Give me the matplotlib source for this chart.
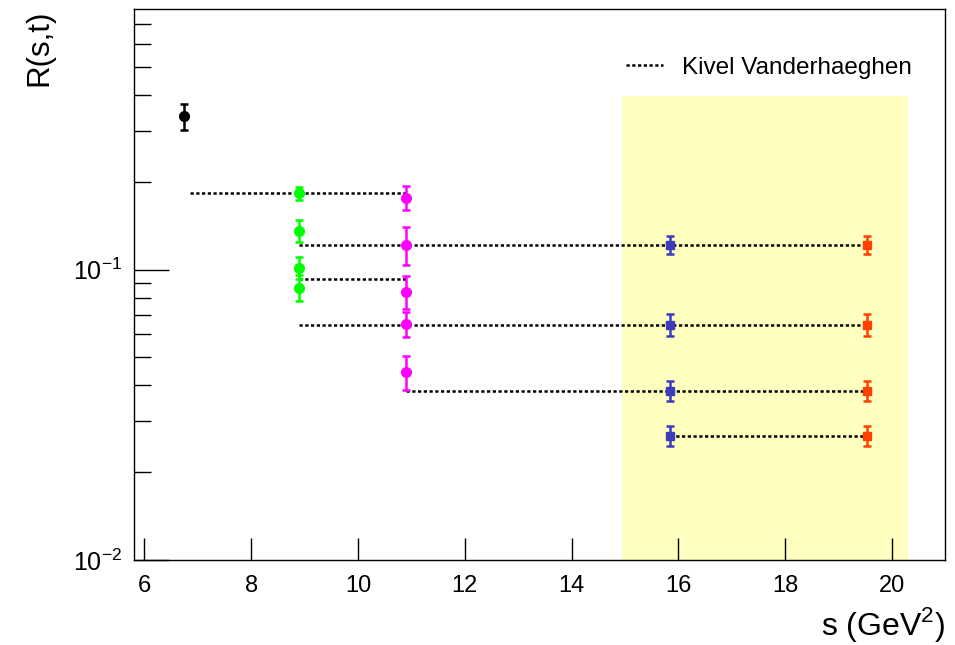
import numpy as np
import matplotlib
matplotlib.use("Agg")
import matplotlib.pyplot as plt
from matplotlib.ticker import FixedLocator, NullFormatter

plt.rcParams['font.family'] = ['Liberation Sans', 'DejaVu Sans']
plt.rcParams['mathtext.fontset'] = 'custom'
plt.rcParams['mathtext.rm'] = 'Liberation Sans'

# measured ratios, grouped by beam energy
s_black = [6.75]
r_black = [0.337]
e_black = [0.034]

s_green = [8.9, 8.9, 8.9, 8.9]
r_green = [0.183, 0.136, 0.1016, 0.0867]
e_green = [0.010, 0.012, 0.009, 0.009]

s_magenta = [10.9, 10.9, 10.9, 10.9, 10.9]
r_magenta = [0.177, 0.122, 0.084, 0.0652, 0.0444]
e_magenta = [0.017, 0.018, 0.011, 0.0065, 0.0060]

s_blue = [15.85, 15.85, 15.85, 15.85]
r_blue = [0.122, 0.0646, 0.0383, 0.0268]
e_blue = [0.009, 0.0055, 0.003, 0.0022]

s_red = [19.53, 19.53, 19.53, 19.53]
r_red = [0.122, 0.0646, 0.0383, 0.0268]
e_red = [0.009, 0.0055, 0.003, 0.0022]

# Kivel-Vanderhaeghen predictions: (s_start, s_end, R)
kv_start = [6.86, 8.9, 8.9, 8.9, 10.9, 15.85]
kv_end = [10.9, 19.53, 10.9, 19.53, 19.53, 19.53]
kv_r = [0.183, 0.122, 0.093, 0.0646, 0.0383, 0.0268]

band_s = (14.95, 20.3)
band_r = (0.01, 0.395)

DOTS = (0, (1.3, 1.0))

fig = plt.figure(figsize=(9.55, 6.45), dpi=100)
ax = fig.add_axes([0.140, 0.132, 0.850, 0.854])
ax.set_yscale('log')
ax.set_xlim(5.8, 21.0)
ax.set_ylim(0.01, 0.79)

ax.fill_between(band_s, band_r[0], band_r[1], color='#ffffc0', lw=0, zorder=0)

for x0, x1, r in zip(kv_start, kv_end, kv_r):
    ax.plot([x0, x1], [r, r], color='black', lw=1.8, ls=DOTS, zorder=3)

err_kw = dict(ls='none', elinewidth=1.8, capsize=3, capthick=1.8, zorder=4)
ax.errorbar(s_black, r_black, yerr=e_black, fmt='o', color='black', ms=7, **err_kw)
ax.errorbar(s_green, r_green, yerr=e_green, fmt='o', color='#00ff00', ms=7, **err_kw)
ax.errorbar(s_magenta, r_magenta, yerr=e_magenta, fmt='o', color='#ff00ff', ms=7, **err_kw)
ax.errorbar(s_blue, r_blue, yerr=e_blue, fmt='s', color='#3b3bbb', ms=6, **err_kw)
ax.errorbar(s_red, r_red, yerr=e_red, fmt='s', color='#ff4000', ms=6, **err_kw)

# legend entry
ax.plot([], [], color='black', lw=1.8, ls=DOTS, label='Kivel Vanderhaeghen')
ax.legend(loc='center right', bbox_to_anchor=(0.985, 0.893), frameon=False,
          fontsize=17.5, handlelength=1.55, handletextpad=0.75)

# axes styling
ax.set_xticks(np.arange(6, 21, 2))
ax.tick_params(axis='x', which='major', direction='in', length=16, width=1,
               labelsize=17, pad=11)
ax.tick_params(axis='x', which='minor', bottom=False)
ax.yaxis.set_major_locator(FixedLocator([0.01, 0.1]))
ax.set_yticklabels([r'$10^{-2}$', r'$10^{-1}$'])
ax.yaxis.set_minor_locator(FixedLocator([m * d for d in (0.01, 0.1) for m in range(2, 10)]))
ax.yaxis.set_minor_formatter(NullFormatter())
ax.tick_params(axis='y', which='major', direction='in', length=25, width=1,
               labelsize=18, pad=8)
ax.tick_params(axis='y', which='minor', direction='in', length=12, width=1)
for sp in ax.spines.values():
    sp.set_linewidth(1.0)

ax.set_xlabel(r's (GeV$^{2}$)', fontsize=23, loc='right', labelpad=6)
ax.set_ylabel('R(s,t)', fontsize=22.5, loc='top', labelpad=14)

fig.savefig('out.png', dpi=100)
